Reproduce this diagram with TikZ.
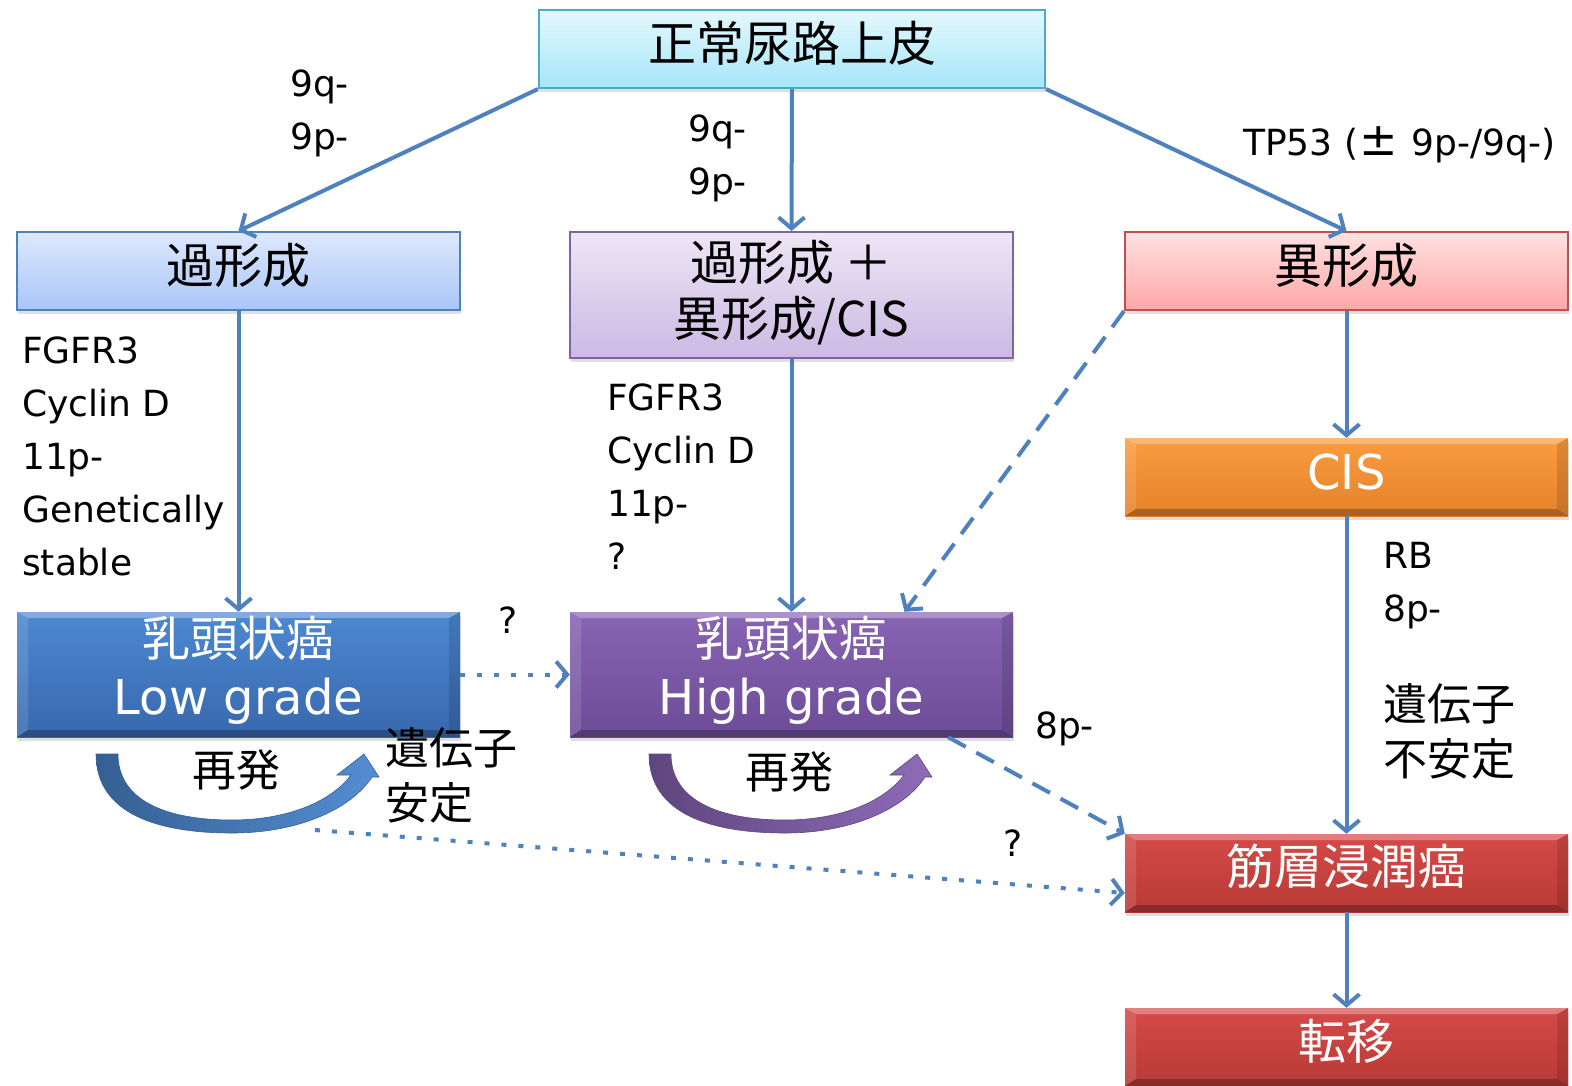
\documentclass[tikz,border=0pt]{standalone}
\usepackage{fontspec}
\setmainfont{DejaVu Sans}
\newfontfamily\jp{Noto Sans CJK JP}
\usetikzlibrary{arrows.meta,shadows}

\definecolor{arrblue}{HTML}{4F81BD}
\definecolor{epiline}{HTML}{4BACC6}
\definecolor{epitop}{HTML}{E4F8FD}
\definecolor{epibot}{HTML}{A6E6F8}
\definecolor{hyptop}{HTML}{DDE8FC}
\definecolor{hypbot}{HTML}{A9C6F9}
\definecolor{mixline}{HTML}{8064A2}
\definecolor{mixtop}{HTML}{EDE6F5}
\definecolor{mixbot}{HTML}{CBB9E3}
\definecolor{dysline}{HTML}{C0504D}
\definecolor{dystop}{HTML}{FFE1E1}
\definecolor{dysbot}{HTML}{FFA7A7}
\definecolor{lowtop}{HTML}{4C88D2}
\definecolor{lowbot}{HTML}{3868AD}
\definecolor{hightop}{HTML}{8864B4}
\definecolor{highbot}{HTML}{6C4C96}
\definecolor{cistop}{HTML}{FB9C40}
\definecolor{cisbot}{HTML}{E4822A}
\definecolor{redtop}{HTML}{D54A48}
\definecolor{redbot}{HTML}{B83A36}

% extra depth under the last line, lifts the text in its box
\newcommand\boxlift[1]{\rule[-#1]{0pt}{0pt}}

\tikzset{
  box/.style={minimum width=443pt, minimum height=78pt, inner sep=0pt, align=center,
    drop shadow={shadow xshift=1pt, shadow yshift=-4pt, opacity=.25}},
  pale/.style={box, draw, line width=2pt, font=\jp\fontsize{48}{56}\selectfont},
  bevel/.style={box, text=white, font=\fontsize{48}{58}\selectfont,
    path picture={
      \path (path picture bounding box.north west) coordinate (a1)
            (path picture bounding box.north east) coordinate (a2)
            (path picture bounding box.south east) coordinate (a3)
            (path picture bounding box.south west) coordinate (a4);
      \path ([shift={(11pt,-6pt)}]a1) coordinate (b1)
            ([shift={(-11pt,-6pt)}]a2) coordinate (b2)
            ([shift={(-11pt,7pt)}]a3) coordinate (b3)
            ([shift={(11pt,7pt)}]a4) coordinate (b4);
      \fill[white,opacity=.3] (a1) -- (a2) -- (b2) -- (b1) -- cycle;
      \fill[white,opacity=.12] (a1) -- (b1) -- (b4) -- (a4) -- cycle;
      \fill[black,opacity=.12] (a2) -- (b2) -- (b3) -- (a3) -- cycle;
      \fill[black,opacity=.25] (a4) -- (b4) -- (b3) -- (a3) -- cycle;
    }},
  link/.style={arrblue, line width=4pt, -{Straight Barb[length=11pt,width=26pt]}},
  dashlink/.style={link, dash pattern=on 20pt off 12pt},
  dotlink/.style={link, dash pattern=on 5pt off 12pt},
  lbl/.style={inner sep=0pt, align=left, font=\fontsize{36}{53}\selectfont},
  jplbl/.style={inner sep=0pt, align=left, font=\jp\fontsize{44}{55}\selectfont},
  recur/.style={draw=#1!70!black, line width=.6pt, left color=#1!70!black, right color=#1!95!white}
}

\begin{document}
\begin{tikzpicture}[x=1pt, y=-1pt]
\useasboundingbox (0,0) rectangle (1572,1085);

% boxes
\node[pale, draw=epiline, top color=epitop, bottom color=epibot, minimum width=506pt] (epi) at (792,49) {正常尿路上皮\boxlift{16pt}};
\node[pale, draw=arrblue, top color=hyptop, bottom color=hypbot] (hyp) at (238.5,271) {過形成\boxlift{16pt}};
\node[pale, draw=mixline, top color=mixtop, bottom color=mixbot, minimum height=126pt] (mix) at (791.5,295) {過形成 ＋\\異形成/CIS\boxlift{14pt}};
\node[pale, draw=dysline, top color=dystop, bottom color=dysbot] (dys) at (1346.5,271) {異形成\boxlift{16pt}};
\node[bevel, top color=cistop, bottom color=cisbot] (cis) at (1346.5,477) {CIS\boxlift{10pt}};
\node[bevel, top color=lowtop, bottom color=lowbot, minimum height=125pt] (low) at (238.5,674.5) {{\jp 乳頭状癌}\\Low grade\boxlift{18pt}};
\node[bevel, top color=hightop, bottom color=highbot, minimum height=125pt] (high) at (791.5,674.5) {{\jp 乳頭状癌}\\High grade\boxlift{18pt}};
\node[bevel, top color=redtop, bottom color=redbot, font=\jp\fontsize{48}{56}\selectfont] (mic) at (1346.5,873) {筋層浸潤癌\boxlift{17pt}};
\node[bevel, top color=redtop, bottom color=redbot, font=\jp\fontsize{48}{56}\selectfont] (met) at (1346.5,1047) {転移\boxlift{16pt}};

% arrows
\draw[link] (epi.south west) -- (hyp.north);
\draw[link] (epi.south) -- (mix.north);
\draw[link] (epi.south east) -- (dys.north);
\draw[link] (hyp) -- (low);
\draw[link] (mix) -- (high);
\draw[link] (dys) -- (cis);
\draw[link] (cis) -- (mic);
\draw[link] (mic) -- (met);
\draw[dashlink] (dys.south west) -- ([xshift=113pt]high.north);
\draw[dotlink] (low) -- (high);
\draw[dashlink] ([xshift=-65pt]high.south east) -- (mic.north west);
\coordinate (lowtail) at (315,830);
\draw[dotlink] (lowtail) -- ([yshift=-20pt]mic.west);

% recurrence arrows
\foreach \dx/\col in {0/lowtop, 553/hightop} {
  \begin{scope}[xshift=\dx pt]
    \path[recur=\col] (96,754) .. controls (96,815) and (160,833) .. (232,833)
      .. controls (300,833) and (352,808) .. (372,777) -- (379,777) -- (364,754)
      -- (337,775) -- (351,775) .. controls (330,803) and (285,820) .. (232,820)
      .. controls (165,820) and (118,800) .. (118,754) -- cycle;
  \end{scope}
}

% labels
\node[lbl, anchor=north west] (l9a) at (290,70) {9q-\\9p-};
\node[lbl, anchor=north west] (l9b) at (688,115) {9q-\\9p-};
\node[lbl, anchor=west] (ltp) at (1243,145) {TP53 (\makebox[42pt]{\fontsize{46}{53}\selectfont ±} 9p-/9q-)};
\node[lbl, anchor=north west] (lhyp) at (22,337) {FGFR3\\Cyclin D\\11p-\\Genetically\\stable};
\node[lbl, anchor=north west] (lmix) at (607,384) {FGFR3\\Cyclin D\\11p-\\?};
\node[lbl, anchor=north west] (lcis) at (1383,542) {RB\\8p-};
\node[jplbl, anchor=north west] (lunst) at (1383,683) {遺伝子\\不安定};
\node[lbl, anchor=west] (l8p) at (1035,729) {8p-};
\node[lbl] (q1) at (508,620) {?};
\node[lbl] (q2) at (1013,843) {?};
\node[jplbl, anchor=north west] (lstab) at (385,727) {遺伝子\\安定};
\node[jplbl] (r1) at (236,770) {再発};
\node[jplbl] (r2) at (789,772) {再発};
\end{tikzpicture}
\end{document}
